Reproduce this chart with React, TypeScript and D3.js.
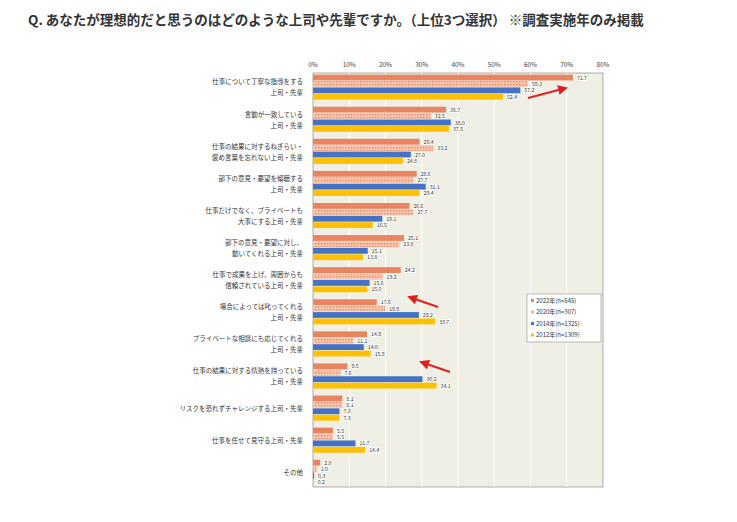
import React from "react";
import * as d3 from "d3";

const categories = [
  ["仕事について丁寧な指導をする", "上司・先輩"],
  ["言動が一致している", "上司・先輩"],
  ["仕事の結果に対するねぎらい・", "褒め言葉を忘れない上司・先輩"],
  ["部下の意見・要望を傾聴する", "上司・先輩"],
  ["仕事だけでなく、プライベートも", "大事にする上司・先輩"],
  ["部下の意見・要望に対し、", "動いてくれる上司・先輩"],
  ["仕事で成果を上げ、周囲からも", "信頼されている上司・先輩"],
  ["場合によっては叱ってくれる", "上司・先輩"],
  ["プライベートな相談にも応じてくれる", "上司・先輩"],
  ["仕事の結果に対する情熱を持っている", "上司・先輩"],
  ["リスクを恐れずチャレンジする上司・先輩"],
  ["仕事を任せて見守る上司・先輩"],
  ["その他"],
];
const s2022 = [71.7, 36.7, 29.4, 28.6, 26.6, 25.1, 24.2, 17.6, 14.9, 9.5, 8.1, 5.5, 2.0];
const s2020 = [59.3, 32.5, 33.2, 27.7, 27.7, 23.8, 19.2, 19.9, 11.1, 7.6, 8.1, 5.5, 1.0];
const s2014 = [57.2, 38.0, 27.0, 31.1, 19.1, 15.1, 15.6, 29.2, 14.0, 30.2, 7.3, 11.7, 0.3];
const s2012 = [52.4, 37.5, 24.8, 29.4, 16.5, 13.8, 15.0, 33.7, 15.9, 34.1, 7.3, 14.4, 0.2];
const seriesNames = ["2022年(n=545)", "2020年(n=307)", "2014年(n=1325)", "2012年(n=1309)"];
const ticks = [0, 10, 20, 30, 40, 50, 60, 70, 80];

const colors = ["#e8845f", "url(#hatch)", "#4472c4", "#ffc000"];
const legendColors = ["#e8845f", "#f2b496", "#4472c4", "#ffc000"];

export default function App() {
  const x = d3.scaleLinear().domain([0, 80]).range([313, 603]);
  const y = d3.scaleBand<number>().domain(d3.range(13)).range([73, 487]).paddingInner(0.2).paddingOuter(0.05);
  const sub = d3.scaleBand<number>().domain([0, 1, 2, 3]).range([0, y.bandwidth()]);
  const all = [s2022, s2020, s2014, s2012];
  const font = "'Noto Sans CJK JP', sans-serif";
  const arrows = [
    { x1: 528, y1: 98, x2: 566, y2: 88 },
    { x1: 438, y1: 307, x2: 409, y2: 297 },
    { x1: 450, y1: 372, x2: 421, y2: 362 },
  ];
  return (
    <svg width={737} height={522} style={{ position: "absolute", left: 0, top: 0, background: "#fff" }} fontFamily={font}>
      <defs>
        <pattern id="hatch" width="3" height="3" patternUnits="userSpaceOnUse">
          <rect width="3" height="3" fill="#f6c7b0" />
          <rect width="1.5" height="1.5" fill="#e8906c" />
        </pattern>
        <marker id="ah" viewBox="0 0 10 10" refX="8" refY="5" markerWidth="5" markerHeight="5" orient="auto">
          <path d="M0,0L10,5L0,10z" fill="#e02020" />
        </marker>
      </defs>
      <text x={28} y={25} fontSize={13.5} fontWeight="bold" fill="#333">
        Q. あなたが理想的だと思うのはどのような上司や先輩ですか。（上位3つ選択） ※調査実施年のみ掲載
      </text>
      <rect x={313} y={73} width={290} height={414} fill="#f0efe5" stroke="#999" strokeWidth={0.8} />
      {ticks.map((t) => (
        <g key={t}>
          {t > 0 && t < 80 && <line x1={x(t)} x2={x(t)} y1={73} y2={487} stroke="#fff" strokeWidth={1} />}
          <text x={x(t)} y={67} fontSize={6.5} textAnchor="middle" fill="#444">{t}%</text>
        </g>
      ))}
      {categories.map((c, i) => (
        <g key={i}>
          {c.map((line, j) => (
            <text key={j} x={303} y={y(i)! + y.bandwidth() / 2 + (j - (c.length - 1) / 2) * 11 + 2.5} fontSize={6.5} textAnchor="end" fill="#333">
              {line}
            </text>
          ))}
          {all.map((s, k) => (
            <g key={k}>
              <rect x={x(0)} y={y(i)! + sub(k)!} width={x(s[i]) - x(0)} height={sub.bandwidth() - 0.6} fill={colors[k]} />
              <text x={x(s[i]) + 4} y={y(i)! + sub(k)! + sub.bandwidth() / 2 + 1.8} fontSize={5.2} fill="#333" stroke="#fff" strokeWidth={1.5} paintOrder="stroke">
                {s[i].toFixed(1)}
              </text>
            </g>
          ))}
        </g>
      ))}
      {arrows.map((a, i) => (
        <line key={i} {...a} stroke="#e02020" strokeWidth={2} markerEnd="url(#ah)" />
      ))}
      <rect x={527} y={294} width={74} height={48} fill="#fff" stroke="#aaa" strokeWidth={0.8} />
      {seriesNames.map((n, k) => (
        <g key={n}>
          <rect x={531} y={299 + k * 11.5} width={3} height={3} fill={legendColors[k]} />
          <text x={536} y={302.5 + k * 11.5} fontSize={6} fill="#333">{n}</text>
        </g>
      ))}
    </svg>
  );
}
